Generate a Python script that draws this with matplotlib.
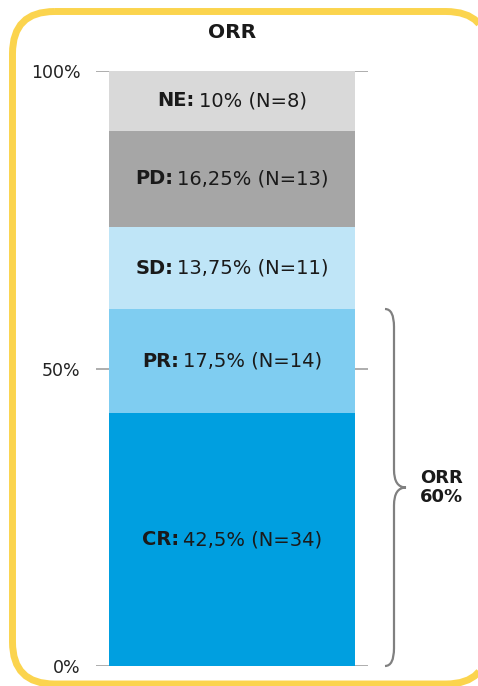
import matplotlib.pyplot as plt
from matplotlib.patches import FancyBboxPatch, Polygon
from matplotlib.path import Path
from matplotlib.patches import PathPatch
from matplotlib.offsetbox import TextArea, HPacker, AnnotationBbox
import matplotlib.transforms as mtransforms

# Response categories, stacked from the bottom
categories = ['CR', 'PR', 'SD', 'PD', 'NE']
percents = [42.5, 17.5, 13.75, 16.25, 10]
value_text = ['42,5%', '17,5%', '13,75%', '16,25%', '10%']
counts = [34, 14, 11, 13, 8]
colors = ['#009fe0', '#7fcdf1', '#bfe5f7', '#a6a6a6', '#d9d9d9']
yticks = [0, 50, 100]
ytick_labels = ['0%', '50%', '100%']
orr_value = 60

W, H = 478, 686
fig = plt.figure(figsize=(W / 100, H / 100), dpi=100)
fig.patch.set_facecolor('white')

# background axes in pixel units for the rounded yellow frame
bg = fig.add_axes([0, 0, 1, 1])
bg.set_xlim(0, W)
bg.set_ylim(H, 0)
bg.axis('off')
rounded = FancyBboxPatch((12.5, 11.5), 488 - 12.5, 684 - 11.5,
                         boxstyle='round,pad=0,rounding_size=42')
# flatten the curved corners to line segments (the frame runs off the canvas)
outline = rounded.get_path().to_polygons()[0]
bg.add_patch(Polygon(outline, closed=True, fill=False,
                     edgecolor='#fbd44e', linewidth=5))

ax = fig.add_axes([96 / W, (H - 666) / H, 272 / W, (666 - 71) / H])
ax.set_xlim(-0.5, 0.5)
ax.set_ylim(0, 100)
ax.patch.set_alpha(0)
for s in ax.spines.values():
    s.set_visible(False)
ax.set_xticks([])
ax.set_yticks(yticks)
ax.set_yticklabels(ytick_labels, fontsize=12.5, color='#222222')
ax.tick_params(axis='y', length=0, pad=11)
for y in yticks:
    ax.axhline(y, color='#a0a0a0', linewidth=1.2, zorder=0)

bottom = 0
for cat, p, vt, n, c in zip(categories, percents, value_text, counts, colors):
    ax.bar(0, p, bottom=bottom, width=0.905, color=c, zorder=2)
    bold = TextArea(cat + ':', textprops=dict(fontsize=14, fontweight='bold', color='#1a1a1a'))
    rest = TextArea(f'{vt} (N={n})', textprops=dict(fontsize=14, color='#1a1a1a'))
    box = HPacker(children=[bold, rest], align='baseline', pad=0, sep=3)
    ab = AnnotationBbox(box, (0, bottom + p / 2), frameon=False, zorder=3,
                        box_alignment=(0.5, 0.5))
    ax.add_artist(ab)
    bottom += p

ax.set_title('ORR', fontsize=14.5, fontweight='bold', color='#1a1a1a', pad=24)

# curly brace spanning the responders (CR + PR)
trans = mtransforms.blended_transform_factory(ax.transAxes, ax.transData)
x0 = (385 - 96) / 272
xv = (394 - 96) / 272
xt = (406 - 96) / 272
ym = orr_value / 2
r = 3
verts = [(x0, orr_value), (xv, orr_value), (xv, orr_value - r),
         (xv, ym + r), (xv, ym), (xt, ym),
         (xv, ym), (xv, ym - r),
         (xv, r), (xv, 0), (x0, 0)]
codes = [Path.MOVETO, Path.CURVE3, Path.CURVE3,
         Path.LINETO, Path.CURVE3, Path.CURVE3,
         Path.CURVE3, Path.CURVE3,
         Path.LINETO, Path.CURVE3, Path.CURVE3]
brace = PathPatch(Path(verts, codes), transform=trans, fill=False,
                  edgecolor='#808080', linewidth=1.6, clip_on=False)
ax.add_patch(brace)
ax.text((420 - 96) / 272, ym, f'ORR\n{orr_value}%', transform=trans,
        ha='left', va='center', fontsize=13, fontweight='bold',
        color='#1a1a1a', linespacing=1.1, clip_on=False)

fig.savefig('out.png', dpi=100)
